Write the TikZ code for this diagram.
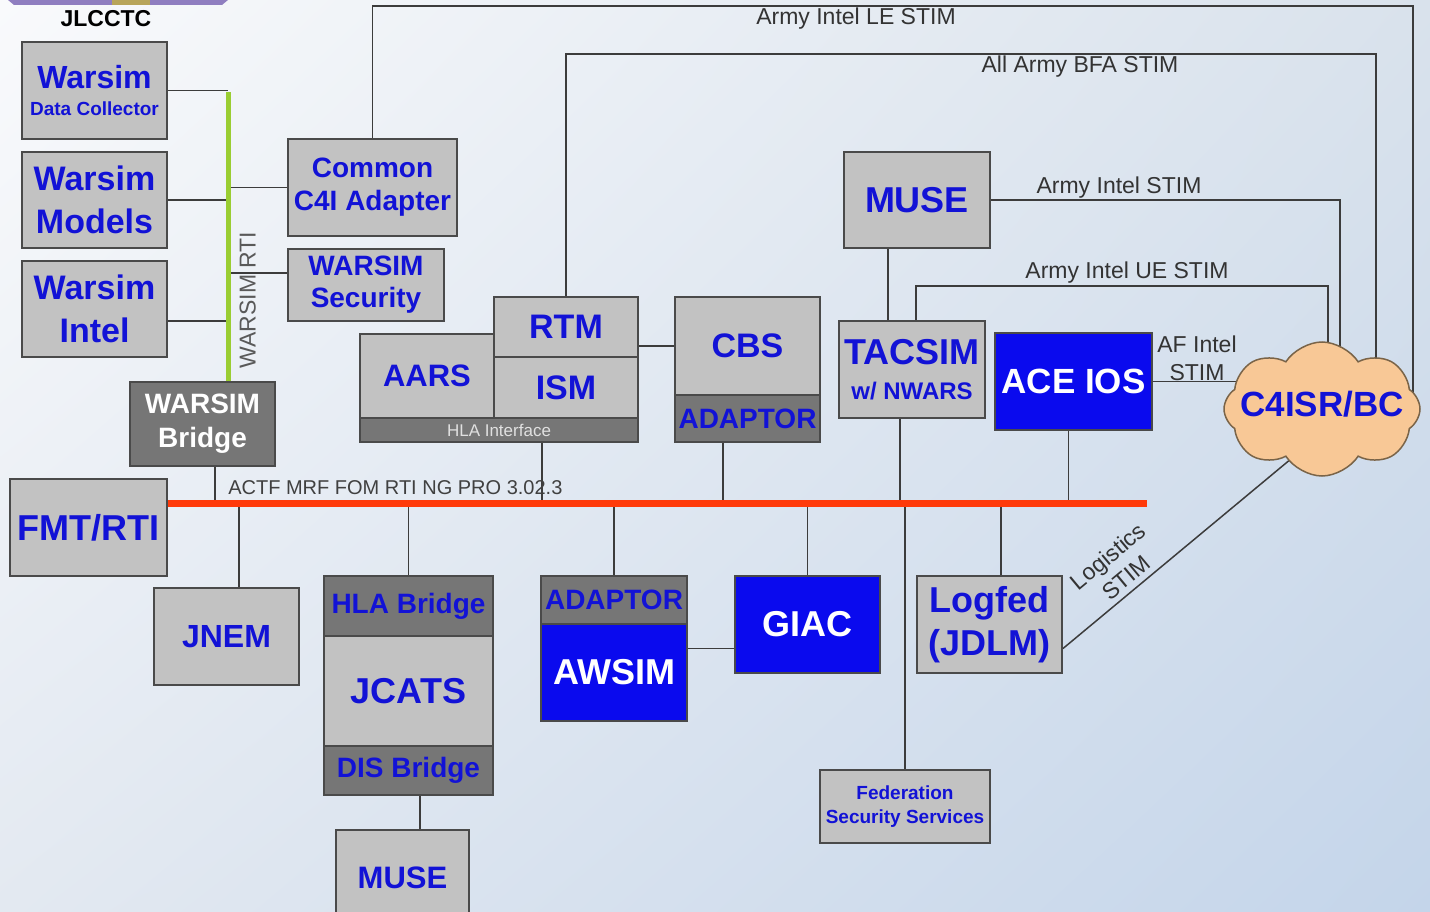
\documentclass[tikz,border=0pt]{standalone}
\usepackage{fontspec}
\setmainfont{Liberation Sans}
\usetikzlibrary{shapes.symbols,backgrounds,shadings}

\definecolor{boxGray}{HTML}{C2C2C2}
\definecolor{bandGray}{HTML}{767676}
\definecolor{edgeGray}{HTML}{4A4A4A}
\definecolor{linkGray}{HTML}{3C3C3C}
\definecolor{txtBlue}{HTML}{1212D6}
\definecolor{fillBlue}{HTML}{0A0AEE}
\definecolor{busRed}{HTML}{FF3A0A}
\definecolor{rtiGreen}{HTML}{9ACD32}
\definecolor{cloudFill}{HTML}{F8C896}
\definecolor{cloudEdge}{HTML}{7A6448}
\definecolor{bannerPurple}{HTML}{8F7EC0}
\definecolor{bannerGold}{HTML}{B8A55A}
\definecolor{bgUL}{HTML}{F9FAFC}
\definecolor{bgUR}{HTML}{D9E2EC}
\definecolor{bgLL}{HTML}{E3E9F1}
\definecolor{bgLR}{HTML}{C4D5EA}

\newcommand{\fsz}[2]{\fontsize{#1pt}{#2pt}\selectfont}

\begin{document}
\begin{tikzpicture}[x=1pt, y=-1pt,
    box/.style={draw=edgeGray, line width=2pt, fill=boxGray, text=txtBlue,
        font=\bfseries, inner sep=0pt, align=center},
    darkbox/.style={box, fill=bandGray},
    bluebox/.style={box, fill=fillBlue, text=white},
    fs/.style 2 args={font=\bfseries\fsz{#1}{#2}},
    link/.style={draw=linkGray, line width=1.5pt},
    lbl/.style={text=black!80, inner sep=2pt, font=\fsz{23}{27}},
]
\useasboundingbox (0,0) rectangle (1430,912);

% background
\begin{pgfonlayer}{background}
\shade[upper left=bgUL, upper right=bgUR, lower left=bgLL, lower right=bgLR]
    (0,0) rectangle (1430,912);
\end{pgfonlayer}

% banner
\fill[bannerPurple] (8,0) -- (228,0) -- (222,5) -- (14,5) -- cycle;
\fill[bannerGold] (112,0) rectangle (150,5);
\node[fs={23}{25}] (jlcctc) at (106,19) {JLCCTC};

% WARSIM side
\node[box, fs={19}{27}, minimum width=145, minimum height=97] (wdc) at (94.5,90.5)
    {{\fsz{32}{27}Warsim}\\Data Collector};
\node[box, fs={34}{43}, minimum width=145, minimum height=96] (wmod) at (94.5,200)
    {Warsim\\Models};
\node[box, fs={34}{43}, minimum width=145, minimum height=96] (wint) at (94.5,309)
    {Warsim\\Intel};
\node[box, fs={28}{33}, minimum width=169, minimum height=97] (common) at (372.5,187.5)
    {Common\\C4I Adapter};
\node[box, fs={28}{32}, minimum width=156, minimum height=72] (wsec) at (366,285)
    {WARSIM\\Security};
\node[darkbox, fs={28}{34}, text=white, minimum width=145, minimum height=84] (wbridge)
    at (202.5,424) {WARSIM\\Bridge};

% AARS / RTM / ISM
\node[box, fs={31}{34}, minimum width=134, minimum height=84] (aars) at (427,376) {AARS};
\node[box, fs={34}{36}, minimum width=144, minimum height=60] (rtm) at (566,327) {RTM};
\node[box, fs={34}{36}, minimum width=144, minimum height=61] (ism) at (566,387.5) {ISM};
\node[darkbox, text=black!12, font=\fsz{17}{19}, minimum width=278, minimum height=24]
    (hlaif) at (499,430) {HLA Interface};

% CBS
\node[box, fs={34}{36}, minimum width=145, minimum height=98] (cbs) at (747.5,346) {CBS};
\node[darkbox, fs={28}{30}, minimum width=145, minimum height=47] (cbsad) at (747.5,418.5)
    {ADAPTOR};

% MUSE / TACSIM / ACE IOS
\node[box, fs={36}{38}, minimum width=146, minimum height=96] (muset) at (917,200) {MUSE};
\node[box, fs={24}{35}, minimum width=146, minimum height=97] (tacsim) at (912,369.5)
    {{\fsz{36}{35}TACSIM}\\w/ NWARS};
\node[bluebox, fs={35}{37}, minimum width=157, minimum height=97] (aceios) at (1073.5,381.5)
    {ACE IOS};
\node[cloud, cloud puffs=8, cloud puff arc=115, cloud ignores aspect, draw=cloudEdge,
    line width=1.5pt, fill=cloudFill, inner sep=0pt,
    minimum width=196, minimum height=134,
    label={[fs={35}{37}, text=txtBlue, yshift=5pt]center:C4ISR/BC}] (c4isr) at (1322,409) {};

% lower row
\node[box, fs={36}{38}, minimum width=157, minimum height=97] (fmt) at (88.5,527.5) {FMT/RTI};
\node[box, fs={32}{34}, minimum width=145, minimum height=97] (jnem) at (226.5,636.5) {JNEM};
\node[darkbox, fs={28}{30}, minimum width=169, minimum height=60] (hlabr) at (408.5,606)
    {HLA Bridge};
\node[box, fs={36}{38}, minimum width=169, minimum height=110] (jcats) at (408.5,691) {JCATS};
\node[darkbox, fs={28}{30}, minimum width=169, minimum height=49] (disbr) at (408.5,770.5)
    {DIS Bridge};
\node[box, fs={31}{33}, minimum width=133, minimum height=95] (museb) at (402.5,877.5) {MUSE};
\node[darkbox, fs={28}{30}, minimum width=146, minimum height=48] (awad) at (614,600) {ADAPTOR};
\node[bluebox, fs={36}{38}, minimum width=146, minimum height=97] (awsim) at (614,672.5) {AWSIM};
\node[bluebox, fs={36}{38}, minimum width=145, minimum height=97] (giac) at (807.5,624.5) {GIAC};
\node[box, fs={36}{43}, minimum width=145, minimum height=97] (logfed) at (989.5,624.5)
    {Logfed\\(JDLM)};
\node[box, fs={19}{24}, minimum width=170, minimum height=73] (fss) at (905,806.5)
    {Federation\\Security Services};

% connectors
\coordinate (rtiT) at (228,92);
\coordinate (rtiB) at (rtiT |- wbridge.north);
\coordinate (busL) at (167,503);
\coordinate (busR) at (1147,503);
\coordinate (leC) at (1413,6);
\coordinate (bfaC) at (1376,54);
\coordinate (ueC) at (1328,286);
\coordinate (intL) at ([yshift=-12pt]wint.east);
\coordinate (secL) at ([yshift=12pt]wsec.west);

\begin{pgfonlayer}{background}
\draw[link] (wdc.east) -- (wdc.east -| rtiT);
\draw[link] (wmod.east) -- (wmod.east -| rtiT);
\draw[link] (intL) -- (intL -| rtiT);
\draw[link] (common.west) -- (common.west -| rtiT);
\draw[link] (secL) -- (secL -| rtiT);
\draw[rtiGreen, line width=5pt] (rtiB) -- (rtiT)
    node[pos=0.28, sloped, below, lbl, text=black!65, inner sep=9pt] (rtiL) {WARSIM RTI};

% drops onto the bus
\foreach \n/\dx in {wbridge/12.5, hlaif/43, cbsad/-24.5, tacsim/-12, aceios/-5}
    \draw[link] ([xshift=\dx pt]\n.south) coordinate (tmp) -- (tmp |- busL);
\foreach \n/\dx in {jnem/12.5, hlabr/0, awad/0, giac/0, logfed/11.5, fss/0}
    \draw[link] ([xshift=\dx pt]\n.north) coordinate (tmp) -- (tmp |- busL);

\draw[link] (rtm.east |- cbs.west) -- (cbs.west);
\draw[link] ([xshift=11.5pt]disbr.south) coordinate (tmp) -- (tmp |- museb.north);
\draw[link] ([yshift=-24pt]giac.west) coordinate (tmp) -- (tmp -| awsim.east);
\draw[link] ([xshift=-29pt]muset.south) coordinate (tmp) -- (tmp |- tacsim.north);

% STIM feeds into C4ISR/BC
\draw[link] (common.north) |- (leC) -- (leC |- c4isr.center);
\draw[link] (rtm.north) |- (bfaC) -- (bfaC |- c4isr.center);
\draw[link] (muset.east) -| ([xshift=18pt]c4isr.center);
\draw[link] ([xshift=4pt]tacsim.north) |- (ueC) -- (ueC |- c4isr.center);
\draw[link] (aceios.east) -- (aceios.east -| c4isr.center);
\draw[link] ([yshift=-24pt]logfed.east) -- ([xshift=29pt]c4isr.center)
    node[pos=0.25, sloped, above, lbl, align=center, inner sep=5pt,
         font=\fsz{23}{28}] (logL) {Logistics\\STIM};

% bus
\draw[busRed, line width=7pt] (busL) -- (busR)
    node[pos=0.233, above, lbl, text=black!75, font=\fsz{20}{22}, inner sep=5pt] (busLbl)
    {ACTF MRF FOM RTI NG PRO 3.02.3};
\end{pgfonlayer}

% link labels
\node[lbl] (leL) at (856,19) {Army Intel LE STIM};
\node[lbl] (bfaL) at (1080,67) {All Army BFA STIM};
\node[lbl] (aiL) at (1119,188) {Army Intel STIM};
\node[lbl] (ueL) at (1127,273) {Army Intel UE STIM};
\node[lbl, align=center, font=\fsz{23}{28}] (afL) at (1197,358) {AF Intel\\STIM};

\end{tikzpicture}
\end{document}
